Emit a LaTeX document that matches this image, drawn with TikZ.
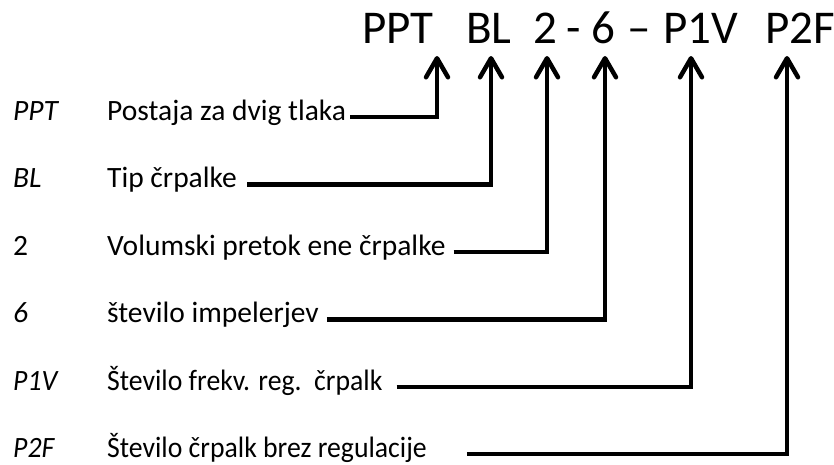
\documentclass[tikz,border=0pt]{standalone}
\usepackage{fontspec}
\setmainfont{Carlito}
\newfontfamily\condfont[FakeStretch=0.94]{Carlito}
\usetikzlibrary{arrows.meta}
\begin{document}
\begin{tikzpicture}[x=1pt,y=1pt,
  ttl/.style={font=\fontsize{47}{50}\selectfont, anchor=base west, inner sep=0pt},
  lab/.style={font=\fontsize{29.5}{32}\selectfont\itshape, anchor=base west, inner sep=0pt},
  labup/.style={font=\fontsize{29.5}{32}\selectfont, anchor=base west, inner sep=0pt},
  desc/.style={font=\fontsize{29.5}{32}\selectfont, anchor=base west, inner sep=0pt},
  clab/.style={font=\condfont\fontsize{29.5}{32}\selectfont\itshape, anchor=base west, inner sep=0pt},
  cdesc/.style={font=\condfont\fontsize{29.5}{32}\selectfont, anchor=base west, inner sep=0pt},
  conn/.style={line width=4.2pt, line join=miter,
    -{Straight Barb[length=19pt,width=22pt,line width=4.5pt,round]}}
]
\useasboundingbox (0,0) rectangle (834,-464);
% title tokens
\node[ttl] (tPPT) at (362,-43) {PPT};
\node[ttl] (tBL)  at (466,-43) {BL};
\node[ttl] (t2)   at (533,-43) {2};
\node[ttl] (td1)  at (566,-43) {-};
\node[ttl] (t6)   at (591,-43) {6};
\node[ttl] (td2)  at (627,-43) {–};
\node[ttl] (tP1V) at (663,-43) {P1V};
\node[ttl] (tP2F) at (765,-43) {P2F};
% arrow tips
\coordinate (aPPT) at (437,-56);
\coordinate (aBL)  at (491,-56);
\coordinate (a2)   at (547,-56);
\coordinate (a6)   at (605,-56);
\coordinate (aP1V) at (691,-56);
\coordinate (aP2F) at (787,-56);
% rows
\node[lab]   (l1) at (13,-120) {PPT};
\node[desc]  (d1) at (107,-120) {Postaja za dvig tlaka};
\node[lab]   (l2) at (13,-187.5) {BL};
\node[desc]  (d2) at (107,-187.5) {Tip črpalke};
\node[labup] (l3) at (13,-255) {2};
\node[desc]  (d3) at (107,-255) {Volumski pretok ene črpalke};
\node[lab]   (l4) at (13,-322.5) {6};
\node[desc]  (d4) at (107,-322.5) {število impelerjev};
\node[clab]  (l5) at (13,-390) {P1V};
\node[cdesc] (d5) at (107,-390) {Število frekv. reg.\ \ črpalk};
\node[clab]  (l6) at (13,-457) {P2F};
\node[cdesc] (d6) at (107,-457) {Število črpalk brez regulacije};
% connectors
\draw[conn] ([xshift=4pt,yshift=3pt]d1.base east) -| (aPPT);
\draw[conn] ([xshift=10pt,yshift=3pt]d2.base east) -| (aBL);
\draw[conn] ([xshift=8pt,yshift=3pt]d3.base east) -| (a2);
\draw[conn] ([xshift=8pt,yshift=3pt]d4.base east) -| (a6);
\draw[conn] ([xshift=14pt,yshift=3pt]d5.base east) -| (aP1V);
\draw[conn] ([xshift=40pt,yshift=3pt]d6.base east) -| (aP2F);
\end{tikzpicture}
\end{document}
